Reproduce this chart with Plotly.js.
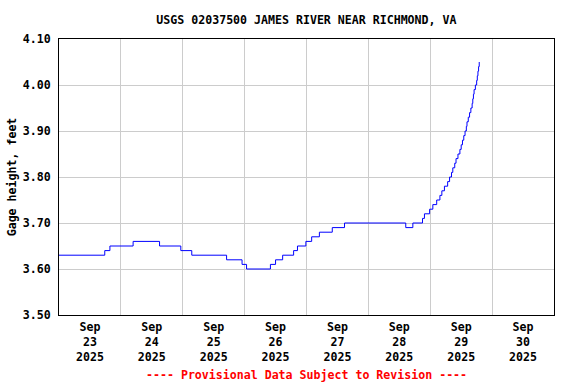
<!DOCTYPE html>
<html>
<head>
<meta charset="utf-8">
<script src="https://cdn.plot.ly/plotly-3.0.1.min.js"></script>
<style>html,body{margin:0;padding:0;background:#fff;}#chart{width:576px;height:384px;}</style>
</head>
<body>
<div id="chart"></div>
<script>
// Change points of gage height (feet); drawn as a step line
const times = [
  "2025-09-23 00:00","2025-09-23 17:45","2025-09-23 19:45","2025-09-24 04:45","2025-09-24 15:00",
  "2025-09-24 23:15","2025-09-25 03:30","2025-09-25 17:00","2025-09-25 23:00","2025-09-26 00:45",
  "2025-09-26 10:00","2025-09-26 12:00","2025-09-26 14:45","2025-09-26 19:00","2025-09-26 20:30",
  "2025-09-26 23:45","2025-09-27 02:00","2025-09-27 05:00","2025-09-27 10:00","2025-09-27 14:45",
  "2025-09-28 14:30","2025-09-28 17:15","2025-09-28 21:00","2025-09-28 21:45","2025-09-28 23:45",
  "2025-09-29 01:00","2025-09-29 02:30","2025-09-29 03:45","2025-09-29 04:30","2025-09-29 05:30",
  "2025-09-29 06:45","2025-09-29 07:30","2025-09-29 08:15","2025-09-29 08:45","2025-09-29 09:30",
  "2025-09-29 10:00","2025-09-29 10:45","2025-09-29 11:30","2025-09-29 12:00","2025-09-29 12:30",
  "2025-09-29 13:00","2025-09-29 13:30","2025-09-29 14:00","2025-09-29 14:15","2025-09-29 14:45",
  "2025-09-29 15:15","2025-09-29 15:45","2025-09-29 16:15","2025-09-29 16:30","2025-09-29 16:45",
  "2025-09-29 17:00","2025-09-29 17:30","2025-09-29 18:00","2025-09-29 18:15","2025-09-29 18:30",
  "2025-09-29 18:45","2025-09-29 19:00"
];
const gageHeight = [
  3.63,3.64,3.65,3.66,3.65,
  3.64,3.63,3.62,3.61,3.60,
  3.61,3.62,3.63,3.64,3.65,
  3.66,3.67,3.68,3.69,3.70,
  3.69,3.70,3.71,3.72,3.73,
  3.74,3.75,3.76,3.77,3.78,
  3.79,3.80,3.81,3.82,3.83,
  3.84,3.85,3.86,3.87,3.88,
  3.89,3.90,3.91,3.92,3.93,
  3.94,3.95,3.96,3.97,3.98,
  3.99,4.00,4.01,4.02,4.03,
  4.04,4.05
];
const tickDates = ["2025-09-23 12:00","2025-09-24 12:00","2025-09-25 12:00","2025-09-26 12:00",
                   "2025-09-27 12:00","2025-09-28 12:00","2025-09-29 12:00","2025-09-30 12:00"];
const tickLabels = ["Sep<br>23<br>2025","Sep<br>24<br>2025","Sep<br>25<br>2025","Sep<br>26<br>2025",
                    "Sep<br>27<br>2025","Sep<br>28<br>2025","Sep<br>29<br>2025","Sep<br>30<br>2025"];
const yTicks = [3.5,3.6,3.7,3.8,3.9,4.0,4.1];
const yLabels = ["3.50","3.60","3.70","3.80","3.90","4.00","4.10"];

const F = {family: "DejaVu Sans Mono", size: 11.6, color: "#000", weight: "bold"};

Plotly.newPlot("chart", [{
  x: times, y: gageHeight, type: "scatter", mode: "lines",
  line: {color: "#0000ff", width: 1, shape: "hv"}, hoverinfo: "skip"
}], {
  width: 576, height: 384,
  margin: {l: 59, r: 22, t: 39, b: 69, pad: 0},
  paper_bgcolor: "#fff", plot_bgcolor: "#fff",
  font: F,
  showlegend: false,
  title: {text: "USGS 02037500 JAMES RIVER NEAR RICHMOND, VA", font: F,
          x: 0.532, xanchor: "center", y: 0.948, yanchor: "middle", yref: "container"},
  xaxis: {
    type: "date", range: ["2025-09-23 00:00", "2025-10-01 00:00"],
    tickmode: "array", tickvals: tickDates, ticktext: tickLabels,
    showgrid: false, ticks: "", tickfont: F, ticklabelstandoff: 1,
    minor: {tick0: "2025-09-23", dtick: 86400000, showgrid: true, gridcolor: "#cccccc", gridwidth: 1, ticks: ""},
    showline: true, linecolor: "#000", linewidth: 1, mirror: true, zeroline: false,
    fixedrange: true
  },
  yaxis: {
    range: [3.5, 4.1], tickmode: "array", tickvals: yTicks, ticktext: yLabels,
    showgrid: true, gridcolor: "#cccccc", gridwidth: 1, ticks: "", ticklabelstandoff: 5,
    tickfont: F,
    showline: true, linecolor: "#000", linewidth: 1, mirror: true, zeroline: false,
    title: {text: "Gage height, feet", font: F, standoff: 3}
  },
  annotations: [{
    text: "---- Provisional Data Subject to Revision ----",
    xref: "paper", yref: "paper", x: 0.5, y: -0.217, xanchor: "center", yanchor: "middle",
    showarrow: false, font: {family: "DejaVu Sans Mono", size: 11.6, color: "#ff0000", weight: "bold"}
  }]
}, {staticPlot: true});
</script>
</body>
</html>
